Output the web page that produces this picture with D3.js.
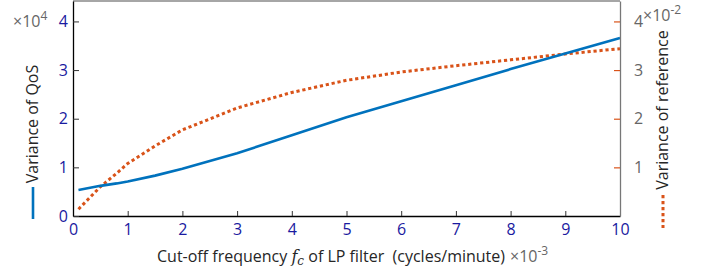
<!DOCTYPE html>
<html>
<head>
<meta charset="utf-8">
<script src="https://cdn.jsdelivr.net/npm/d3@7"></script>
<style>
  body { margin: 0; background: #fff; }
  svg { display: block; font-family: "Open Sans", sans-serif; }
</style>
</head>
<body>
<div id="chart"></div>
<script>
// cut-off frequency (x 1e-3 cycles/minute)
var freq = [0.1, 0.5, 0.8, 1, 1.5, 2, 3, 4, 5, 6, 7, 8, 9, 10];
// variance of QoS (x 1e4)
var qosVar = [0.535, 0.62, 0.67, 0.71, 0.83, 0.97, 1.29, 1.66, 2.03, 2.36, 2.69, 3.02, 3.34, 3.66];
// variance of reference (x 1e-2)
var refVar = [0.14, 0.6, 0.88, 1.08, 1.44, 1.77, 2.22, 2.54, 2.79, 2.96, 3.09, 3.21, 3.33, 3.44];

var xTicks = [0, 1, 2, 3, 4, 5, 6, 7, 8, 9, 10];
var yLeftTicks = [0, 1, 2, 3, 4];
var yRightTicks = [1, 2, 3, 4];

var W = 709, H = 271;
var x0 = 73, x1 = 620, yTop = 1, yBot = 216;

var svg = d3.select('#chart')
    .append('svg')
    .attr('width', W)
    .attr('height', H);

var xScale = d3.scaleLinear().domain([0, 10]).range([x0, x1]);
var yLeft = d3.scaleLinear().domain([0, 4.42]).range([yBot, yTop]);
var yRight = d3.scaleLinear().domain([0, 4.42]).range([yBot, yTop]);

var blue = '#0072BD', orange = '#D95319';
var tickBlue = '#1a1aa0', grey = '#666666', dark = '#262626';

// top border in grey
svg.append('line')
    .attr('x1', x0).attr('x2', x1).attr('y1', yTop).attr('y2', yTop)
    .attr('stroke', '#888').attr('stroke-width', 1.5);

// lines
var pts = freq.map(function(f, i){ return {f: f, q: qosVar[i], r: refVar[i]}; });

svg.append('path')
    .datum(pts)
    .attr('fill', 'none')
    .attr('stroke', orange)
    .attr('stroke-width', 3)
    .attr('stroke-dasharray', '3.2,2.8')
    .attr('d', d3.line().x(function(d){ return xScale(d.f); }).y(function(d){ return yRight(d.r); }));

svg.append('path')
    .datum(pts)
    .attr('fill', 'none')
    .attr('stroke', blue)
    .attr('stroke-width', 2.6)
    .attr('d', d3.line().x(function(d){ return xScale(d.f); }).y(function(d){ return yLeft(d.q); }));

// axes
var fmt = d3.format('d');
var xAxis = d3.axisBottom(xScale).tickValues(xTicks).tickFormat(fmt).tickSizeInner(-5).tickSizeOuter(0).tickPadding(9);
var gx = svg.append('g').attr('transform', 'translate(0,' + yBot + ')').call(xAxis);
gx.select('.domain').attr('stroke', '#000').attr('stroke-width', 1.3);
gx.selectAll('.tick line').attr('stroke', '#333');
gx.selectAll('.tick text').attr('fill', tickBlue).style('font-size', '16px').style('font-family', '"Open Sans", sans-serif').attr('dy', '0.6em');

var yAxisL = d3.axisLeft(yLeft).tickValues(yLeftTicks).tickFormat(fmt).tickSizeInner(-6).tickSizeOuter(0).tickPadding(5);
var gl = svg.append('g').attr('transform', 'translate(' + x0 + ',0)').call(yAxisL);
gl.select('.domain').attr('stroke', '#000').attr('stroke-width', 1.3);
gl.selectAll('.tick line').attr('stroke', '#333');
gl.selectAll('.tick text').attr('fill', tickBlue).style('font-size', '16px').style('font-family', '"Open Sans", sans-serif');

var yAxisR = d3.axisRight(yRight).tickValues(yRightTicks).tickFormat(fmt).tickSizeInner(-6).tickSizeOuter(0).tickPadding(14);
var gr = svg.append('g').attr('transform', 'translate(' + x1 + ',0)').call(yAxisR);
gr.select('.domain').attr('stroke', '#777').attr('stroke-width', 1.3);
gr.selectAll('.tick line').attr('stroke', orange).attr('stroke-width', 1.2);
gr.selectAll('.tick text').attr('fill', grey).style('font-size', '16px').style('font-family', '"Open Sans", sans-serif');

// multipliers
function mult(x, y, exp) {
    var t = svg.append('text').attr('x', x).attr('y', y).attr('fill', grey).style('font-size', '16px');
    t.append('tspan').text('\u00d710');
    t.append('tspan').attr('dy', -7).style('font-size', '12px').text(exp);
}
mult(13, 27, '4');
mult(643, 21, '-2');

// left y label with legend sample
svg.append('text')
    .attr('transform', 'translate(38,124) rotate(-90)')
    .attr('text-anchor', 'middle')
    .attr('fill', dark)
    .style('font-size', '16px')
    .text('Variance of QoS');
svg.append('line')
    .attr('x1', 33).attr('x2', 33).attr('y1', 187).attr('y2', 219)
    .attr('stroke', blue).attr('stroke-width', 2.6);

// right y label with legend sample
svg.append('text')
    .attr('transform', 'translate(668,110) rotate(-90)')
    .attr('text-anchor', 'middle')
    .attr('fill', dark)
    .style('font-size', '16px')
    .text('Variance of reference');
svg.append('line')
    .attr('x1', 663).attr('x2', 663).attr('y1', 195).attr('y2', 228)
    .attr('stroke', orange).attr('stroke-width', 3).attr('stroke-dasharray', '3.2,2.8');

// x label
var xl = svg.append('text').attr('x', 157).attr('y', 262).attr('fill', dark).style('font-size', '16px');
xl.append('tspan').text('Cut-off frequency ');
xl.append('tspan').style('font-family', '"DejaVu Serif", serif').style('font-style', 'italic').text('f');
xl.append('tspan').attr('dy', 3).style('font-family', '"DejaVu Serif", serif').style('font-style', 'italic').style('font-size', '12px').text('c');
xl.append('tspan').attr('dy', -3).text(' of LP filter\u00a0 (cycles/minute)');
xl.append('tspan').attr('dx', 5).attr('fill', grey).text('\u00d710');
xl.append('tspan').attr('dy', -7).attr('fill', grey).style('font-size', '12px').text('-3');
</script>
</body>
</html>
